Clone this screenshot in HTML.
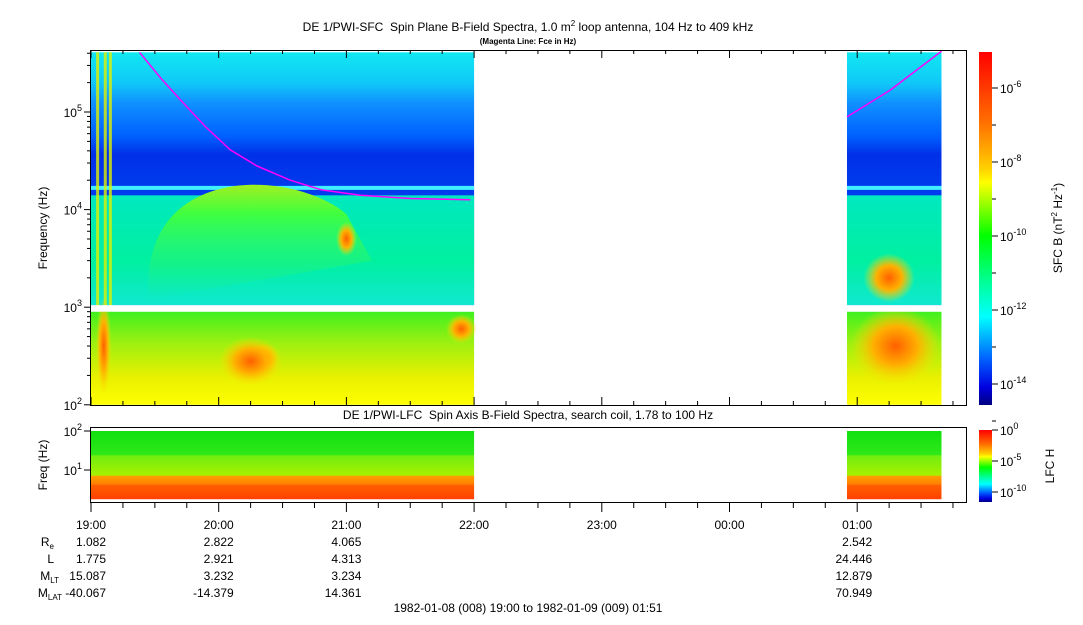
<!DOCTYPE html>
<html><head><meta charset="utf-8"><style>
body{margin:0;background:#fff;width:1083px;height:620px;overflow:hidden;font-family:"Liberation Sans",sans-serif}
svg text{font-family:"Liberation Sans",sans-serif;fill:#000}
</style></head><body>
<svg id="c" width="1083" height="620" xmlns="http://www.w3.org/2000/svg">
<defs>
<linearGradient id="upA" x1="0" y1="0" x2="0" y2="1">
<stop offset="0" stop-color="#10e8f0"/><stop offset="0.12" stop-color="#10c8f8"/><stop offset="0.2" stop-color="#1090ff"/><stop offset="0.33" stop-color="#0060ff"/><stop offset="0.4" stop-color="#0030e8"/><stop offset="0.6" stop-color="#0040f0"/><stop offset="1" stop-color="#0058ff"/>
</linearGradient>
<linearGradient id="midA" x1="0" y1="0" x2="0" y2="1">
<stop offset="0" stop-color="#00e8c0"/><stop offset="0.6" stop-color="#00f0a0"/><stop offset="1" stop-color="#10e8d0"/>
</linearGradient>
<linearGradient id="lowA" x1="0" y1="0" x2="0" y2="1">
<stop offset="0" stop-color="#40f020"/><stop offset="0.35" stop-color="#a0f010"/><stop offset="0.7" stop-color="#e8f000"/><stop offset="1" stop-color="#ffff00"/>
</linearGradient>
<linearGradient id="lfc" x1="0" y1="0" x2="0" y2="1">
<stop offset="0" stop-color="#10e010"/><stop offset="0.35" stop-color="#30e818"/><stop offset="0.36" stop-color="#70ee10"/><stop offset="0.65" stop-color="#a8f000"/><stop offset="0.66" stop-color="#ffa000"/><stop offset="0.78" stop-color="#ff8000"/><stop offset="0.79" stop-color="#ff6000"/><stop offset="1" stop-color="#ff4000"/>
</linearGradient>
<linearGradient id="cb1" x1="0" y1="0" x2="0" y2="1">
<stop offset="0" stop-color="#ff0000"/><stop offset="0.2" stop-color="#ff7000"/><stop offset="0.33" stop-color="#ffd000"/><stop offset="0.37" stop-color="#ffff00"/><stop offset="0.52" stop-color="#00ff00"/><stop offset="0.66" stop-color="#00ffa0"/><stop offset="0.75" stop-color="#00ffff"/><stop offset="0.87" stop-color="#0060ff"/><stop offset="0.95" stop-color="#0000e0"/><stop offset="1" stop-color="#000080"/>
</linearGradient>
<radialGradient id="blob"><stop offset="0" stop-color="#ff6000"/><stop offset="0.5" stop-color="#ffb000"/><stop offset="1" stop-color="#ffe000" stop-opacity="0"/></radialGradient>
<linearGradient id="humpG" x1="0" y1="0" x2="0" y2="1"><stop offset="0" stop-color="#a0f020"/><stop offset="0.25" stop-color="#40ff40"/><stop offset="1" stop-color="#20f080" stop-opacity="0"/></linearGradient>
</defs>
<g id="plot"></g>
</svg>
<script>
// ---- data ----
const chunks=[[0,3.0],[5.92,6.66]]; // hours after 19:00 with data
const fceHours=[0.38,0.55,0.7,0.9,1.09,1.3,1.56,1.8,2.11,2.5,2.97];
const fceHz=[409000,220000,133000,70000,41000,28000,20000,16000,14000,13000,12600];
const fce2Hours=[5.92,6.26,6.66];
const fce2Hz=[89000,168000,420000];
const hourLabels=["19:00","20:00","21:00","22:00","23:00","00:00","01:00"];
const ephemHours=[0,1,2,6];
const Re=["1.082","2.822","4.065","2.542"];
const Lv=["1.775","2.921","4.313","24.446"];
const MLT=["15.087","3.232","3.234","12.879"];
const MLAT=["-40.067","-14.379","14.361","70.949"];
// hot spots
const blobHours=[0.1,1.35,1.25,2.0,2.9,6.3,6.25];
const blobHz=[400,300,280,5000,600,400,2000];
const blobW=[0.06,0.12,0.25,0.08,0.12,0.35,0.2];
const blobD=[1.0,0.3,0.5,0.35,0.3,0.8,0.5];

const S='http://www.w3.org/2000/svg';
const g=document.getElementById('plot');
const X=h=>91+h*127.7;
const Y=f=>112-(Math.log10(f)-5)*97.6;
const YL=f=>431+(2-Math.log10(f))*39;
function el(t,a,p){const e=document.createElementNS(S,t);for(const k in a)e.setAttribute(k,a[k]);(p||g).appendChild(e);return e;}
function txt(x,y,s,o){const e=el('text',Object.assign({x:x,y:y,'font-size':12},o||{}));e.innerHTML=s;return e;}

chunks.forEach((c,i)=>{
 const x0=X(c[0]),x1=X(c[1]),w=x1-x0;
 let r;
 r=el('rect',{x:x0,y:Y(409000),width:w,height:Y(1000)-Y(409000),fill:'url(#upA)'});
 
 r=el('rect',{x:x0,y:Y(14000),width:w,height:Y(1050)-Y(14000),fill:'url(#midA)'});
 
 r=el('rect',{x:x0,y:Y(17500),width:w,height:4,fill:'#40f0ff'});
 
 r=el('rect',{x:x0,y:Y(900),width:w,height:Y(100)-Y(900),fill:'url(#lowA)'});
 
 r=el('rect',{x:x0,y:YL(100),width:w,height:YL(1.78)-YL(100),fill:'url(#lfc)'});
 
});
// green hump
let hm=el('path',{d:'M'+X(0.45)+','+Y(2000)+' C'+X(0.5)+','+Y(30000)+' '+X(1.6)+','+Y(25000)+' '+X(2.0)+','+Y(9000)+' L'+X(2.2)+','+Y(3000)+' L'+X(0.45)+','+Y(1200)+'Z',fill:'url(#humpG)'});

// left hot strips
[0.04,0.1,0.14].forEach(h=>{let ls=el('rect',{x:X(h),y:Y(409000),width:3,height:Y(1000)-Y(409000),fill:'#e0f000',opacity:0.8});
});
blobHours.forEach((h,i)=>{
 const b=el('ellipse',{cx:X(h),cy:Y(blobHz[i]),rx:blobW[i]*127.7,ry:blobD[i]*97.6/2,fill:'url(#blob)'});
 
});
// clip 1kHz gap
let gp=el('rect',{x:90,y:Y(1050),width:876,height:Y(900)-Y(1050),fill:'#fff'});

// fce lines
function line(hs,fs,n){const d=hs.map((h,i)=>(i?'L':'M')+X(h).toFixed(1)+','+Y(fs[i]).toFixed(1)).join('');
 const p=el('path',{d:d,fill:'none',stroke:'#ff00ff','stroke-width':1.5,'stroke-linejoin':'round'});}
line(fceHours,fceHz,'fce-line');line(fce2Hours,fce2Hz,'fce-line-2');
// frames
let f1=el('rect',{x:90.5,y:50.5,width:876,height:355,fill:'none',stroke:'#000'});

let f2=el('rect',{x:90.5,y:427.5,width:876,height:75,fill:'none',stroke:'#000'});

// y ticks upper
[2,3,4,5].forEach(k=>{const y=Y(Math.pow(10,k));el('line',{x1:84,x2:90,y1:y,y2:y,stroke:'#000'});
 const t=txt(84-2,y+5,'10<tspan font-size="9" dy="-6">'+k+'</tspan>',{'text-anchor':'end'});
 for(let m=2;m<10&&k<5.7;m++){const yy=Y(m*Math.pow(10,k));if(yy>50)el('line',{x1:87,x2:90,y1:yy,y2:yy,stroke:'#000'});}});
[1,2].forEach(k=>{const y=YL(Math.pow(10,k));el('line',{x1:84,x2:90,y1:y,y2:y,stroke:'#000'});
 txt(82,y+5,'10<tspan font-size="9" dy="-6">'+k+'</tspan>',{'text-anchor':'end'});});
let yt=txt(0,0,'Frequency (Hz)',{transform:'translate(47,228) rotate(-90)','text-anchor':'middle'});

txt(0,0,'Freq (Hz)',{transform:'translate(47,465) rotate(-90)','text-anchor':'middle'});
// x ticks
for(let q=0;q<=27;q++){const x=X(q/4),maj=q%4==0;el('line',{x1:x,x2:x,y1:503,y2:maj?512:508,stroke:'#000'});
 el('line',{x1:x,x2:x,y1:405,y2:maj?397:401,stroke:'#000'});el('line',{x1:x,x2:x,y1:50,y2:maj?58:54,stroke:'#000'});}
hourLabels.forEach((s,i)=>{const t=txt(X(i)+15,529,s,{'text-anchor':'end'});});
// ephemeris
txt(54,546,'R<tspan font-size="8" dy="3">e</tspan>',{'text-anchor':'end'});
txt(54,563,'L',{'text-anchor':'end'});
txt(59,580,'M<tspan font-size="8" dy="3">LT</tspan>',{'text-anchor':'end'});
txt(62,597,'M<tspan font-size="8" dy="3">LAT</tspan>',{'text-anchor':'end'});
[Re,Lv,MLT,MLAT].forEach((arr,r)=>arr.forEach((v,i)=>{const t=txt(X(ephemHours[i])+15,546+r*17,v,{'text-anchor':'end'});}));
let tr=txt(528,612,'1982-01-08 (008) 19:00 to 1982-01-09 (009) 01:51',{'text-anchor':'middle'});

// titles
let t1=txt(528,31,'DE 1/PWI-SFC&#160; Spin Plane B-Field Spectra, 1.0 m<tspan font-size="8" dy="-5">2</tspan><tspan dy="5"> loop antenna, 104 Hz to 409 kHz</tspan>',{'text-anchor':'middle'});

let t2=txt(528,44,'(Magenta Line: Fce in Hz)',{'text-anchor':'middle','font-size':8,'font-weight':'bold'});

let t3=txt(528,419,'DE 1/PWI-LFC&#160; Spin Axis B-Field Spectra, search coil, 1.78 to 100 Hz',{'text-anchor':'middle'});

// colorbars
let c1=el('rect',{x:979,y:52,width:13,height:353,fill:'url(#cb1)'});

el('rect',{x:992.5,y:52,width:0,height:353,stroke:'#000'});
const cbl=[-6,-8,-10,-12,-14];
cbl.forEach((k,i)=>{const y=88+i*74;el('line',{x1:992,x2:998,y1:y,y2:y,stroke:'#000'});
 el('line',{x1:992,x2:996,y1:y+37,y2:y+37,stroke:'#000'});
 txt(1000,y+5,'10<tspan font-size="9" dy="-6">'+k+'</tspan>');});
txt(0,0,'SFC B (nT<tspan font-size="8" dy="-5">2</tspan><tspan dy="5"> Hz</tspan><tspan font-size="8" dy="-5">-1</tspan><tspan dy="5">)</tspan>',{transform:'translate(1062,228) rotate(-90)','text-anchor':'middle'});
let c2=el('rect',{x:979,y:430,width:13,height:72,fill:'url(#cb1)'});

[0,-5,-10].forEach((k,i)=>{const y=430+i*31;el('line',{x1:992,x2:998,y1:y,y2:y,stroke:'#000'});
 txt(1000,y+5,'10<tspan font-size="9" dy="-6">'+k+'</tspan>');});
txt(0,0,'LFC H',{transform:'translate(1054,466) rotate(-90)','text-anchor':'middle'});
</script>
</body></html>
